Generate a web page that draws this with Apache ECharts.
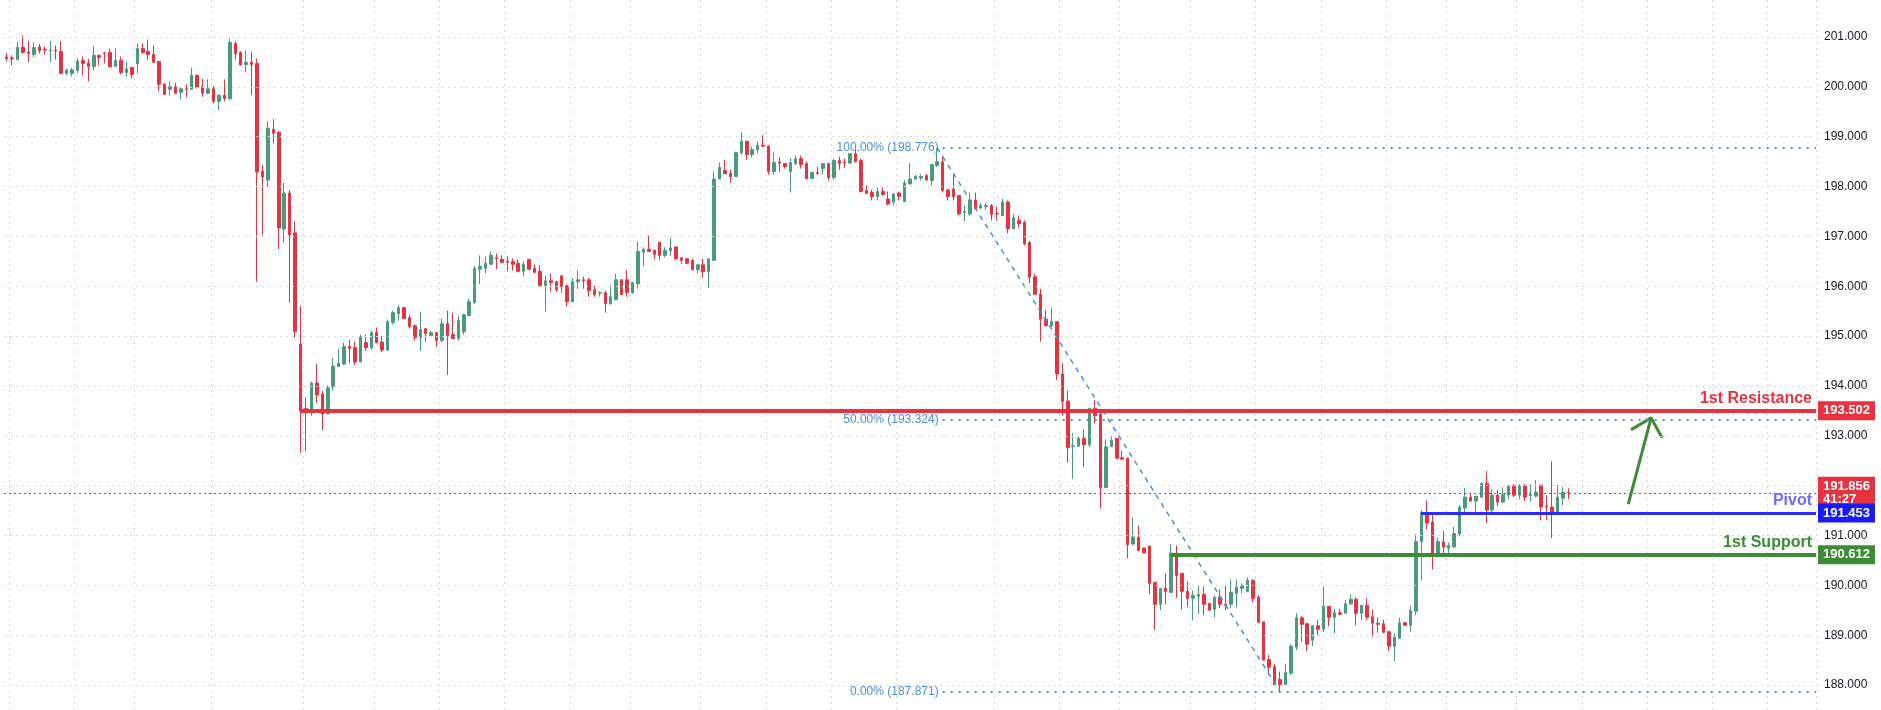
<!DOCTYPE html>
<html>
<head>
<meta charset="utf-8">
<script src="https://cdn.jsdelivr.net/npm/echarts@6/dist/echarts.min.js"></script>
<style>
  html, body { margin: 0; padding: 0; background: #fff; }
  #chart { width: 1881px; height: 710px; }
</style>
</head>
<body>
<div id="chart"></div>
<script>
// candles (oldest first)
var opens = [200.6,200.58,200.55,200.79,200.7,200.65,200.8,200.75,200.72,200.73,200.71,200.27,200.27,200.33,200.53,200.48,200.41,200.63,200.68,200.69,
  200.41,200.53,200.29,200.39,200.46,200.77,200.71,200.65,200.51,200.06,199.95,200,199.89,199.96,199.95,200.23,200,199.87,199.96,199.71,
  199.83,199.76,200.87,200.69,200.45,200.49,200.47,198.31,198.13,199.15,199.09,197.15,197.87,197.07,194.84,193.55,193.46,194.06,193.84,193.44,
  193.99,194.39,194.44,194.79,194.77,194.48,194.87,194.77,195.07,194.88,194.72,195.27,195.45,195.57,195.37,195.21,194.97,195.15,195.01,195.07,
  194.91,195.25,195.03,194.95,195.09,195.41,195.67,196.34,196.36,196.44,196.57,196.54,196.5,196.5,196.46,196.3,196.54,196.36,196.3,196.01,
  196.11,196.09,196.21,196.01,195.69,196.09,196.13,196.13,195.93,195.86,195.87,195.65,195.73,196.13,196.13,195.87,196.05,196.68,196.74,196.72,
  196.88,196.62,196.71,196.79,196.57,196.55,196.52,196.33,196.43,196.29,196.52,198.15,198.32,198.26,198.2,198.68,198.91,198.64,198.74,198.83,
  198.81,198.3,198.49,198.46,198.3,198.46,198.56,198.46,198.16,198.28,198.36,198.46,198.18,198.52,198.49,198.47,198.66,198.52,197.92,197.88,
  197.8,197.9,197.75,197.69,197.87,197.7,198.05,198.15,198.17,198.22,198.12,198.42,198.49,197.93,197.95,197.82,197.48,197.45,197.73,197.57,
  197.6,197.62,197.46,197.42,197.69,197.15,197.32,197.28,196.88,196.19,195.84,195.34,195.21,195.29,194.24,193.7,192.78,192.79,192.95,192.82,
  193.55,193.43,191.96,192.78,192.95,192.56,192.55,190.83,190.96,190.75,190.79,190.06,189.62,189.94,189.86,190.65,190.24,189.88,189.74,189.78,
  189.82,189.64,189.52,189.76,189.62,189.62,189.84,189.94,189.88,190.1,189.76,189.27,188.51,188.37,188.11,188.01,188.24,188.76,189.35,189.23,
  188.9,189.19,189.12,189.58,189.36,189.45,189.44,189.63,189.72,189.44,189.6,189.37,189.24,189.23,189.07,188.78,188.94,189.25,189.2,189.48,
  190.88,191.46,191.27,190.61,190.87,190.75,190.77,191.03,191.55,191.77,191.69,191.77,192.05,191.51,191.81,191.67,191.81,191.99,191.81,191.99,
  191.8,191.79,192.01,191.59,191.57,191.43,191.75,191.87];
var closes = [200.57,200.56,200.79,200.69,200.67,200.79,200.73,200.74,200.73,200.72,200.27,200.34,200.34,200.52,200.47,200.41,200.63,200.59,200.67,200.4,
  200.53,200.29,200.36,200.25,200.77,200.69,200.65,200.49,200.05,199.85,200,199.87,199.96,199.95,200.23,199.99,199.87,199.96,199.71,199.83,
  199.77,200.89,200.67,200.44,200.49,200.45,198.29,198.19,199.17,199.07,197.17,197.87,197.03,195.09,193.5,193.5,194.06,193.82,193.44,193.96,
  194.4,194.46,194.79,194.75,194.48,194.99,194.77,195.07,194.87,194.72,195.29,195.47,195.57,195.35,195.19,194.97,195.13,195.05,195.07,194.91,
  195.25,195.01,194.95,195.31,195.43,195.69,196.36,196.4,196.46,196.62,196.55,196.48,196.48,196.44,196.3,196.44,196.34,196.28,196.01,196.11,
  196.07,195.93,195.99,195.69,196.09,196.13,196.11,195.91,195.83,195.87,195.65,195.79,196.13,195.83,195.87,196.07,196.7,196.74,196.7,196.64,
  196.62,196.72,196.77,196.55,196.52,196.46,196.33,196.43,196.29,196.55,198.15,198.38,198.26,198.2,198.68,198.91,198.64,198.74,198.83,198.81,
  198.3,198.48,198.47,198.4,198.48,198.56,198.44,198.16,198.28,198.26,198.46,198.18,198.52,198.46,198.47,198.66,198.5,197.9,197.86,197.8,
  197.9,197.84,197.65,197.85,197.8,198.07,198.15,198.2,198.2,198.13,198.44,198.5,197.92,197.8,197.8,197.45,197.5,197.73,197.55,197.62,
  197.62,197.44,197.45,197.69,197.15,197.38,197.26,196.85,196.18,195.84,195.34,195.21,195.29,194.24,193.69,192.76,192.8,192.95,192.82,193.55,
  193.4,191.96,192.78,192.91,192.55,192.53,190.82,190.97,190.7,190.65,190.04,189.62,189.94,189.88,190.65,190.2,189.88,189.74,189.8,189.82,
  189.62,189.5,189.76,189.62,189.6,189.86,189.96,190.0,190.1,189.74,189.26,188.5,188.36,188.01,188.01,188.25,188.78,189.35,189.22,188.82,
  189.19,189.12,189.58,189.36,189.45,189.42,189.63,189.72,189.44,189.6,189.36,189.24,189.22,189.06,188.78,188.96,189.25,189.2,189.5,190.88,
  191.46,191.25,190.61,190.88,190.77,190.8,191.04,191.57,191.77,191.69,191.79,192.05,191.51,191.81,191.67,191.83,191.99,191.81,191.99,191.77,
  191.82,191.87,191.57,191.57,191.43,191.77,191.87,191.856];
var lows = [200.51,200.43,200.53,200.67,200.49,200.6,200.67,200.65,200.49,200.55,200.27,200.23,200.21,200.27,200.23,200.11,200.33,200.43,200.47,200.39,
  200.41,200.25,200.21,200.17,200.27,200.67,200.53,200.49,199.91,199.85,199.83,199.87,199.75,199.79,199.95,199.97,199.8,199.85,199.67,199.53,
  199.71,199.74,200.55,200.43,200.29,199.83,196.09,197.03,197.99,198.87,196.75,196.87,195.67,194.97,192.66,192.69,193.4,193.66,193.11,193.44,
  193.9,194.39,194.42,194.46,194.42,194.48,194.7,194.73,194.85,194.68,194.7,195.23,195.31,195.35,195.15,194.91,194.7,194.89,194.99,194.79,
  194.87,194.22,194.95,194.91,195.03,195.41,195.65,196.05,196.26,196.44,196.34,196.46,196.3,196.32,196.28,196.2,196.34,196.26,195.99,195.49,
  195.89,195.89,195.87,195.59,195.69,195.95,195.95,195.79,195.79,195.79,195.47,195.63,195.73,195.83,195.79,195.85,195.95,196.4,196.7,196.54,
  196.52,196.58,196.61,196.52,196.45,196.45,196.33,196.26,196.17,195.97,196.52,198.15,198.26,198.08,198.2,198.64,198.54,198.58,198.66,198.79,
  198.24,198.24,198.3,198.36,197.88,198.44,198.36,198.14,198.16,198.24,198.24,198.12,198.14,198.34,198.37,198.47,198.48,197.88,197.86,197.72,
  197.72,197.82,197.62,197.62,197.72,197.7,198.05,198.13,198.12,198.12,198.02,198.39,197.88,197.72,197.72,197.42,197.3,197.42,197.55,197.55,
  197.53,197.32,197.32,197.42,197.06,197.15,197.18,196.82,196.06,195.84,194.89,195.19,195.18,194.12,193.4,192.46,192.14,192.79,192.37,192.77,
  193.25,191.54,191.96,192.78,192.53,192.53,190.54,190.8,190.7,190.65,189.82,189.1,189.5,189.62,189.85,189.75,189.52,189.56,189.3,189.42,
  189.4,189.5,189.36,189.54,189.5,189.54,189.56,189.84,189.86,189.66,189.24,188.5,188.2,188.0,187.871,188.0,188.2,188.7,188.87,188.68,
  188.78,189.0,189.07,189.18,189.04,189.4,189.44,189.6,189.2,189.3,189.3,188.97,189.05,189.04,188.68,188.48,188.94,189.18,189.07,189.4,
  190.1,191.13,190.32,190.58,190.65,190.6,190.75,190.98,191.44,191.69,191.45,191.77,191.25,191.41,191.59,191.65,191.73,191.77,191.73,191.69,
  191.69,191.77,191.31,191.31,190.95,191.43,191.61,191.73];
var highs = [200.68,200.63,200.9,201.03,200.92,200.89,200.86,200.81,200.92,200.83,200.92,200.36,200.38,200.57,200.61,200.56,200.82,200.65,200.7,200.77,
  200.77,200.61,200.51,200.4,200.87,200.87,200.95,200.83,200.51,200.06,200.11,200.08,199.98,200.05,200.39,200.25,200.16,200.15,200.02,199.85,
  200.15,200.97,200.91,200.71,200.73,200.71,200.57,198.43,199.31,199.35,199.11,198.07,197.93,197.31,195.6,193.77,194.09,194.45,193.9,194.01,
  194.56,194.75,194.87,194.92,194.89,195.03,195.03,195.11,195.17,195.0,195.33,195.51,195.63,195.59,195.43,195.23,195.49,195.15,195.11,195.07,
  195.35,195.51,195.47,195.41,195.43,195.75,196.4,196.62,196.6,196.7,196.66,196.62,196.6,196.56,196.54,196.5,196.54,196.44,196.42,196.21,
  196.25,196.11,196.21,196.03,196.17,196.32,196.19,196.17,196.01,195.9,195.91,196.03,196.25,196.13,196.33,196.09,196.9,196.78,197.02,196.74,
  196.88,196.78,196.97,196.79,196.57,196.57,196.55,196.43,196.55,196.55,198.3,198.48,198.54,198.34,198.7,199.09,198.91,198.8,198.91,199.03,
  198.83,198.68,198.59,198.46,198.58,198.62,198.62,198.5,198.3,198.4,198.46,198.46,198.56,198.6,198.56,198.66,198.74,198.56,198.02,197.94,
  197.98,197.98,197.9,197.87,197.9,198.13,198.47,198.23,198.25,198.25,198.45,198.776,198.62,197.95,198.23,197.82,197.62,197.88,197.88,197.67,
  197.67,197.65,197.6,197.75,197.72,197.45,197.42,197.32,196.91,196.25,195.95,195.52,195.57,195.3,194.46,193.91,193.05,192.98,193.13,193.56,
  193.72,193.46,192.93,192.99,192.95,192.7,192.56,191.36,191.2,190.75,190.79,190.06,189.94,190.24,190.83,190.8,190.24,190.08,189.9,190.0,
  189.98,189.64,189.8,189.92,190.0,190.12,190.12,190.04,190.16,190.12,189.8,189.27,188.6,188.42,188.27,188.43,188.82,189.44,189.38,189.25,
  189.19,189.31,189.98,189.58,189.53,189.53,189.71,189.82,189.76,189.6,189.74,189.51,189.36,189.31,189.07,189.04,189.35,189.27,189.6,191.03,
  191.51,191.7,191.46,190.95,191.09,190.86,191.17,191.61,191.95,191.83,191.79,192.05,192.29,191.93,191.91,191.97,192.01,192.03,192.03,192.03,
  192.03,192.11,192.01,191.81,192.49,192.01,191.97,191.95];

var slotCount = 333;                         // candles plus empty space to the right
var gridIdx = [1,13,24,38,55,68,80,92,104,115,128,140,152,164,182,194,205,218,230,242,254,265,278,290,302,314,324];
var priceTicks = [188,189,190,191,192,193,194,195,196,197,198,199,200,201];
var resistance = 193.502, pivot = 191.453, support = 190.612, lastPrice = 191.856;
var fib100 = 198.776, fib50 = 193.324, fib0 = 187.871;

var up = '#4c9a7e', down = '#e8323f';
var cats = [], ohlc = [];
for (var i = 0; i < slotCount; i++) {
    cats.push(i);
    ohlc.push(i < opens.length ? [opens[i], closes[i], lows[i], highs[i]] : '-');
}
var END = slotCount - 0.5;

function hline(y, x0, color, width, type, label) {
    return [{coord: [x0, y], lineStyle: {color: color, width: width, type: type}, label: label},
            {coord: [END, y]}];
}
function tag(text, bg) {
    return {show: true, position: 'end', distance: 2, formatter: text, backgroundColor: bg,
        color: '#fff', fontSize: 13, fontWeight: 'bold', padding: [3, 5], align: 'left',
        fontFamily: 'Liberation Sans'};
}
function title(text, color) {
    return {show: true, position: 'insideEndTop', distance: 4, formatter: text, color: color,
        fontSize: 16, fontWeight: 'bold', fontFamily: 'Liberation Sans'};
}
function fibLabel(text) {
    return {show: true, position: 'start', distance: 4, formatter: text, color: '#4a8fe0',
        fontSize: 12, fontFamily: 'Liberation Sans'};
}
// horizontal dotted grid at each whole price
var gridLines = priceTicks.map(function (p) {
    return [{coord: [-0.5, p], lineStyle: {color: '#d9dbe0', width: 1, type: [2, 4]}, label: {show: false}},
            {coord: [END, p]}];
});

var chart = echarts.init(document.getElementById('chart'));
chart.setOption({
    animation: false,
    grid: {left: 4, right: 65, top: 0, bottom: 0},
    xAxis: [{
        type: 'category', data: cats, boundaryGap: true,
        axisLine: {show: false}, axisTick: {show: false}, axisLabel: {show: false},
        splitLine: {show: true, interval: function (idx) { return gridIdx.indexOf(idx) >= 0; },
            lineStyle: {color: '#d9dbe0', type: [2, 4]}}
    }, {
        type: 'value', min: -0.5, max: END, show: false
    }],
    yAxis: {
        type: 'value', position: 'right', min: 187.5, max: 201.742, interval: 0.5,
        axisLine: {show: false}, axisTick: {show: false}, splitLine: {show: false},
        axisLabel: {color: '#131722', fontSize: 12, margin: 8, fontFamily: 'Liberation Sans',
            showMaxLabel: false,
            formatter: function (v) { return Math.abs(v - Math.round(v)) < 1e-6 ? v.toFixed(3) : ''; }}
    },
    series: [{
        type: 'line', xAxisIndex: 1, data: [], silent: true, z: 1,
        markLine: {symbol: 'none', silent: true, animation: false, data: gridLines}
    }, {
        type: 'candlestick', data: ohlc, barWidth: 3, z: 2,
        itemStyle: {color: up, color0: down, borderColor: up, borderColor0: down, borderWidth: 1}
    }, {
        type: 'line', xAxisIndex: 1, data: [], silent: true, z: 3,
        markLine: {
            symbol: 'none', silent: true, animation: false,
            data: [
                hline(fib100, 172, '#4a8fe0', 2, [2, 6], fibLabel('100.00% (198.776)')),
                hline(fib50, 172, '#4a8fe0', 2, [2, 6], fibLabel('50.00% (193.324)')),
                hline(fib0, 172, '#4a8fe0', 2, [2, 6], fibLabel('0.00% (187.871)')),
                hline(lastPrice, -0.5, down, 1, [2, 3], tag('191.856\n41:27', down)),
                hline(resistance, 54, down, 4, 'solid', title('1st Resistance', down)),
                hline(resistance, 54, down, 4, 'solid', tag('193.502', down)),
                hline(support, 214, '#3d8b37', 4, 'solid', title('1st Support', '#3d8b37')),
                hline(support, 214, '#3d8b37', 4, 'solid', tag('190.612', '#3d8b37')),
                hline(pivot, 260, '#2b2bff', 3, 'solid', title('Pivot', '#6b6bff')),
                hline(pivot, 260, '#2b2bff', 3, 'solid', tag('191.453', '#1a1aff'))
            ]
        }
    }, {
        // fib trend line from the high to the low
        type: 'line', xAxisIndex: 1, symbol: 'none', silent: true,
        data: [[171, fib100], [234, fib0]],
        lineStyle: {color: '#4a8fe0', width: 1.5, type: [5, 5]}
    }, {
        // arrow towards resistance
        type: 'line', xAxisIndex: 1, symbol: 'none', silent: true,
        data: [[298, 191.63], [302.2, 193.36]],
        lineStyle: {color: '#3d8b37', width: 3}
    }, {
        type: 'line', xAxisIndex: 1, symbol: 'none', silent: true,
        data: [[298.5, 193.12], [302.2, 193.36], [304.2, 192.96]],
        lineStyle: {color: '#3d8b37', width: 3}
    }]
});
</script>
</body>
</html>
